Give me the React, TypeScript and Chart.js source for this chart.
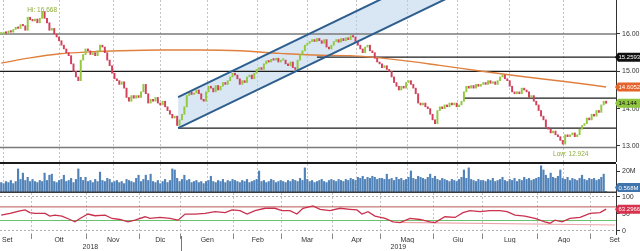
import React, { useEffect, useRef } from 'react';
import { Chart, registerables } from 'chart.js';

Chart.register(...registerables);

// ---------------- data ----------------
const monthNames = ['Set', 'Ott', 'Nov', 'Dic', 'Gen', 'Feb', 'Mar', 'Apr', 'Mag', 'Giu', 'Lug', 'Ago', 'Set'];
const monthStarts = [0, 13, 36, 58, 75, 97, 117, 138, 158, 180, 200, 223, 245];
const yearLabels = ['2018', '2019'];
const yearStartMonth = [0, 4];

const firstOpen = 16.0;
const closes = [
  // Set 2018
  16.00, 16.05, 16.02, 16.08, 16.05, 16.12, 16.18, 16.15, 16.25, 16.22, 16.10, 16.45, 16.38,
  // Ott
  16.35, 16.40, 16.30, 16.42, 16.60, 16.42, 16.30, 16.10, 16.15, 16.00, 15.92, 15.82, 15.70, 15.60, 15.50, 15.42, 15.20, 15.00, 14.85, 14.75, 15.30, 15.45, 15.60,
  // Nov
  15.55, 15.45, 15.50, 15.42, 15.55, 15.70, 15.65, 15.50, 15.30, 15.15, 14.95, 14.80, 14.75, 14.65, 14.72, 14.55, 14.30, 14.20, 14.35, 14.28, 14.35, 14.30,
  // Dic
  14.45, 14.65, 14.40, 14.15, 14.25, 14.20, 14.30, 14.15, 14.10, 14.20, 14.05, 13.95, 13.85, 13.75, 13.80, 13.55, 13.70,
  // Gen 2019
  13.85, 14.05, 14.35, 14.45, 14.38, 14.42, 14.50, 14.40, 14.25, 14.20, 14.45, 14.60, 14.55, 14.45, 14.62, 14.50, 14.60, 14.70, 14.65, 14.75, 14.85, 14.95,
  // Feb
  14.90, 14.80, 14.65, 14.75, 14.70, 14.85, 14.90, 14.80, 14.95, 15.05, 15.10, 15.05, 15.20, 15.28, 15.25, 15.32, 15.30, 15.35, 15.25, 15.30,
  // Mar
  15.30, 15.20, 15.15, 15.25, 15.10, 15.05, 15.30, 15.45, 15.55, 15.70, 15.75, 15.80, 15.85, 15.80, 15.88, 15.82, 15.75, 15.85, 15.65, 15.60, 15.70,
  // Apr
  15.80, 15.85, 15.78, 15.88, 15.82, 15.90, 15.85, 15.95, 15.92, 15.80, 15.70, 15.60, 15.50, 15.65, 15.70, 15.55, 15.50, 15.35, 15.25, 15.20,
  // Mag
  15.10, 15.15, 15.05, 15.00, 14.85, 14.70, 14.60, 14.50, 14.60, 14.55, 14.70, 14.75, 14.65, 14.55, 14.40, 14.15, 14.10, 14.15, 14.05, 14.00, 13.85, 13.70,
  // Giu
  13.60, 13.95, 14.05, 14.00, 14.10, 14.05, 14.15, 14.10, 14.15, 14.05, 14.10, 14.20, 14.45, 14.60, 14.55, 14.62, 14.55, 14.65, 14.60, 14.65,
  // Lug
  14.70, 14.65, 14.75, 14.68, 14.72, 14.65, 14.75, 14.85, 14.90, 14.80, 14.75, 14.60, 14.45, 14.40, 14.45, 14.40, 14.55, 14.50, 14.45, 14.30, 14.35, 14.20, 14.10,
  // Ago
  13.95, 13.80, 13.70, 13.50, 13.45, 13.35, 13.40, 13.30, 13.25, 13.15, 13.05, 13.30, 13.25, 13.30, 13.35, 13.25, 13.30, 13.45, 13.55, 13.60, 13.75, 13.70,
  // Set 2019
  13.85, 13.80, 13.95, 13.90, 14.10, 14.20, 14.144,
];

const volumesM = [
  9, 8, 10, 9, 11, 8, 10, 22, 12, 18, 11, 14, 10,
  12, 10, 9, 11, 10, 18, 11, 16, 17, 10, 9, 11, 12, 16, 10, 11, 13, 9, 12, 22, 14, 11, 14,
  10, 11, 9, 12, 10, 19, 11, 10, 13, 12, 9, 10, 11, 9, 10, 8, 12, 11, 10, 9, 13, 16,
  10, 12, 16, 11, 17, 10, 9, 11, 8, 10, 12, 9, 11, 22, 21, 13, 10,
  12, 16, 11, 12, 9, 10, 11, 9, 10, 8, 10, 11, 15, 10, 9, 11, 10, 12, 9, 11, 10, 12,
  11, 10, 9, 11, 10, 12, 9, 10, 11, 12, 20, 10, 11, 9, 10, 12, 11, 9, 10, 11,
  10, 9, 11, 10, 12, 11, 10, 13, 11, 23, 12, 10, 11, 9, 10, 11, 12, 10, 9, 11, 12,
  11, 10, 12, 11, 10, 12, 11, 13, 12, 11, 14, 13, 15, 12, 14, 13, 15, 14, 12, 13,
  13, 12, 17, 12, 13, 11, 14, 12, 13, 11, 12, 14, 20, 13, 12, 15, 14, 13, 12, 14, 17, 13,
  15, 12, 11, 13, 12, 11, 10, 12, 11, 10, 12, 14, 21, 13, 23, 12, 11, 10, 12, 11,
  11, 10, 12, 11, 13, 10, 11, 12, 14, 11, 10, 12, 11, 13, 10, 12, 11, 14, 12, 13, 11, 12, 13,
  14, 25, 21, 16, 13, 18, 14, 13, 15, 21, 13, 12, 14, 11, 13, 12, 11, 13, 16, 12, 11, 13,
  12, 13, 11, 12, 14, 17, 0.568,
];

// 200-day moving average, read at selected bar positions
const maAt = [0, 12, 24.4, 36.8, 49.3, 65.9, 82.5, 99.1, 115.7, 132.3, 144.7, 165.5, 182, 198.7, 215.3, 231.9, 244.3, 251];
const maValues = [15.22, 15.36, 15.47, 15.52, 15.55, 15.57, 15.57, 15.55, 15.48, 15.43, 15.42, 15.30, 15.16, 15.01, 14.87, 14.74, 14.64, 14.58];

// RSI read at selected bar positions
const rsiAt = [0, 3.65, 7.8, 9.9, 11.9, 14, 18.2, 20.2, 22.3, 25.2, 28.5, 30.6, 32.7, 36, 38.9, 43.1, 46, 49.3, 52.6, 55.5, 59.7, 61.7, 65.9, 70, 73.4, 76.3, 80.4, 84.6, 88.7, 92.9, 95.8, 99.1, 102, 105.3, 109.5, 113.6, 116.5, 119.8, 122.7, 125.2, 129.4, 132.3, 136.4, 140.6, 144.7, 147.6, 149.7, 152.2, 155.1, 159.3, 162.6, 165.5, 169.6, 173.8, 177.9, 180, 184.1, 188.3, 191.6, 194.5, 198.7, 202.8, 207, 209.9, 213.2, 217.3, 221.5, 225.6, 227.7, 229.8, 232.7, 236, 240.2, 244.3, 248.5, 251];
const rsiValues = [46, 51, 58, 61, 53, 51, 51, 43, 46, 43, 33, 26, 36, 49, 44, 46, 36, 33, 26, 31, 41, 36, 39, 36, 31, 49, 49, 51, 56, 53, 61, 59, 49, 59, 66, 66, 59, 59, 49, 66, 73, 63, 59, 66, 63, 61, 49, 56, 43, 36, 26, 24, 36, 33, 26, 24, 41, 39, 53, 59, 56, 59, 59, 56, 46, 43, 36, 26, 22, 31, 26, 36, 39, 51, 53, 63.2966];
const rsiBands = [70, 30];
const rsiTrendAt = [164.2, 254.7];
const rsiTrendValues = [24.7, 16.8];

// horizontal price levels
const levelValues = [16.0, 15.38, 15.0, 14.28, 13.48, 12.96];
const levelFromBar = [-0.5, 131, -0.5, 191.6, 73.4, -0.5];

// trend channel
const channelAt = [73.4, 190];
const channelUpper = [14.31, 17.94];
const channelLower = [13.48, 17.11];

const priceTicks = [13, 14, 15, 16];
const volumeTicks = [20];
const rsiTicks = [0, 50, 100];

const hiValue = 16.668;
const hiBar = 17;
const lowValue = 12.924;
const lowBar = 233;

const lastPrice = 14.144;
const maLastLabel = '14.6052';
const levelTagText = '15.2593';
const lastVolumeM = 0.568;
const lastRsi = 63.2966;

// ---------------- styles / layout ----------------
const FONT = "'Liberation Sans', 'DejaVu Sans', Arial, sans-serif";
const X_MIN = -0.5;
const X_MAX = 255.1;
const AXIS_W = 24;
const UP = '#93c83f';
const DOWN = '#d2405b';
const GRID = '#c4c4c4';
const AXIS = '#333333';
const levelStyles = [
  { color: '#7a7a7a', width: 1.6 },
  { color: '#1c1c1c', width: 1.3 },
  { color: '#1c1c1c', width: 1.3 },
  { color: '#1c1c1c', width: 1.3 },
  { color: '#1c1c1c', width: 1.3 },
  { color: '#7a7a7a', width: 1.6 },
];

const boundaries = monthStarts.slice(1).map((s) => s - 0.5);
const monthCenters = monthNames.map((_, i) => {
  if (i === 0) return boundaries[0] - 10;
  if (i === monthNames.length - 1) return boundaries[boundaries.length - 1] + 10;
  return (boundaries[i - 1] + boundaries[i]) / 2;
});
const yearBoundary = monthStarts[yearStartMonth[1]] - 0.5;
const yearCenters = [(X_MIN + yearBoundary) / 2, (yearBoundary + X_MAX) / 2];

function noPad(s: any) {
  s.paddingTop = 0;
  s.paddingBottom = 0;
  s.paddingLeft = 0;
  s.paddingRight = 0;
}

function hiddenX() {
  return {
    type: 'linear',
    min: X_MIN,
    max: X_MAX,
    offset: false,
    afterBuildTicks: (s: any) => {
      s.ticks = boundaries.map((v) => ({ value: v }));
    },
    afterFit: (s: any) => {
      s.height = 0;
      noPad(s);
    },
    ticks: { display: false },
    grid: { color: GRID, lineWidth: 1, drawTicks: false },
    border: { display: false, dash: [2, 2] },
  };
}

function rightY(min: number, max: number, ticks: number[], fmt: (v: number) => string, gridColor?: any) {
  return {
    type: 'linear',
    position: 'right',
    min,
    max,
    afterBuildTicks: (s: any) => {
      s.ticks = ticks.map((v) => ({ value: v }));
    },
    afterFit: (s: any) => {
      s.width = AXIS_W;
      noPad(s);
    },
    ticks: { callback: (v: any) => fmt(Number(v)), font: { size: 7, family: FONT }, color: AXIS, padding: 2 },
    grid: {
      drawOnChartArea: !!gridColor,
      color: gridColor || AXIS,
      tickColor: AXIS,
      drawTicks: true,
      tickLength: 4,
    },
    border: { display: true, color: AXIS, width: 1, dash: gridColor ? [2, 2] : [] },
  };
}

function drawTag(chart: any, value: number, text: string, bg: string, fg: string, scaleId = 'y') {
  const { ctx, chartArea } = chart;
  const scale = chart.scales[scaleId];
  const h = 9;
  let yc = scale.getPixelForValue(value);
  yc = Math.max(chartArea.top + h / 2, Math.min(chartArea.bottom - h / 2, yc));
  const x0 = chartArea.right + 2;
  ctx.save();
  ctx.fillStyle = bg;
  ctx.beginPath();
  ctx.moveTo(x0 - 3, yc);
  ctx.lineTo(x0, yc - h / 2);
  ctx.lineTo(chart.width, yc - h / 2);
  ctx.lineTo(chart.width, yc + h / 2);
  ctx.lineTo(x0, yc + h / 2);
  ctx.closePath();
  ctx.fill();
  ctx.fillStyle = fg;
  ctx.font = `6px ${FONT}`;
  ctx.textAlign = 'left';
  ctx.textBaseline = 'middle';
  ctx.fillText(text, x0 + 0.5, yc + 0.5);
  ctx.restore();
}

function priceConfig(): any {
  const opens = closes.map((c, i) => (i === 0 ? firstOpen : closes[i - 1]));
  const candles = closes.map((c, i) => ({ x: i, y: [opens[i], c] }));
  const colors = closes.map((c, i) => (c >= opens[i] ? UP : DOWN));
  const pts = (xs: number[], ys: number[]) => xs.map((x, i) => ({ x, y: ys[i] }));

  const datasets: any[] = [
    {
      type: 'line',
      data: pts(channelAt, channelUpper),
      borderWidth: 0,
      pointRadius: 0,
      backgroundColor: 'rgba(186, 209, 234, 0.55)',
      fill: '+1',
      order: 20,
    },
    {
      type: 'line',
      data: pts(channelAt, channelLower),
      borderWidth: 0,
      pointRadius: 0,
      fill: false,
      order: 20,
    },
    ...levelValues.map((v, i) => ({
      type: 'line',
      data: [
        { x: levelFromBar[i], y: v },
        { x: X_MAX, y: v },
      ],
      borderColor: levelStyles[i].color,
      borderWidth: levelStyles[i].width,
      pointRadius: 0,
      fill: false,
      order: 6,
    })),
    {
      type: 'line',
      data: pts(maAt, maValues),
      borderColor: '#e0803f',
      borderWidth: 1.4,
      pointRadius: 0,
      fill: false,
      cubicInterpolationMode: 'monotone',
      order: 5,
    },
    {
      type: 'bar',
      data: candles,
      backgroundColor: colors,
      borderWidth: 0,
      barThickness: 1.3,
      minBarLength: 1.5,
      order: 2,
    },
    {
      type: 'line',
      data: pts(channelAt, channelUpper),
      borderColor: '#2d5e8e',
      borderWidth: 2,
      pointRadius: 0,
      fill: false,
      order: 1,
    },
    {
      type: 'line',
      data: pts(channelAt, channelLower),
      borderColor: '#2d5e8e',
      borderWidth: 2,
      pointRadius: 0,
      fill: false,
      order: 1,
    },
  ];

  const deco = {
    id: 'priceDeco',
    afterDraw(chart: any) {
      const { ctx, scales } = chart;
      const x = scales.x;
      const y = scales.y;
      drawTag(chart, levelValues[1], levelTagText, '#111111', '#ffffff');
      drawTag(chart, maValues[maValues.length - 1], maLastLabel, '#e5642c', '#ffffff');
      drawTag(chart, lastPrice, lastPrice.toFixed(3), '#8ec63f', '#111111');
      ctx.save();
      ctx.font = `6.5px ${FONT}`;
      ctx.fillStyle = '#8cad3a';
      ctx.textAlign = 'center';
      ctx.textBaseline = 'middle';
      const hx = x.getPixelForValue(hiBar);
      const hy = y.getPixelForValue(hiValue);
      ctx.fillText(`Hi: ${hiValue.toFixed(3)}`, hx, hy + 1);
      const lx = x.getPixelForValue(lowBar);
      const ly = y.getPixelForValue(lowValue);
      ctx.fillText(`Low: ${lowValue.toFixed(3)}`, lx + 8, ly + 5);
      ctx.restore();
    },
  };

  return {
    type: 'bar',
    data: { datasets },
    plugins: [deco],
    options: {
      animation: false,
      responsive: false,
      events: [],
      layout: { padding: 0 },
      plugins: { legend: { display: false }, tooltip: { enabled: false } },
      scales: {
        x: hiddenX(),
        y: rightY(12.5711, 16.9108, priceTicks, (v) => v.toFixed(2)),
      },
    },
  };
}

function volumeConfig(): any {
  const deco = {
    id: 'volDeco',
    afterDraw(chart: any) {
      const { ctx, chartArea } = chart;
      ctx.save();
      ctx.fillStyle = '#1a1a1a';
      ctx.fillRect(0, 0, chartArea.right, 2);
      ctx.fillStyle = '#3c3c3c';
      ctx.fillRect(0, chartArea.bottom - 0.5, chartArea.right, 2);
      ctx.restore();
      drawTag(chart, lastVolumeM, `${lastVolumeM}M`, '#3f74ad', '#ffffff');
    },
  };
  return {
    type: 'bar',
    data: {
      datasets: [
        {
          data: volumesM.map((v, i) => ({ x: i, y: v })),
          backgroundColor: '#5283b8',
          borderWidth: 0,
          barThickness: 1.5,
        },
      ],
    },
    plugins: [deco],
    options: {
      animation: false,
      responsive: false,
      events: [],
      layout: { padding: { top: 2, bottom: 1, left: 0, right: 0 } },
      plugins: { legend: { display: false }, tooltip: { enabled: false } },
      scales: {
        x: hiddenX(),
        y: rightY(0, 26.7, volumeTicks, (v) => `${v}M`),
      },
    },
  };
}

function rsiConfig(): any {
  const labelMap = new Map<number, string>();
  monthCenters.forEach((v, i) => labelMap.set(v, monthNames[i]));
  const bset = new Set(boundaries);
  const allTicks = [...boundaries, ...monthCenters].sort((a, b) => a - b);
  const yearMap = new Map<number, string>();
  yearCenters.forEach((v, i) => yearMap.set(v, yearLabels[i]));

  const deco = {
    id: 'rsiDeco',
    afterDraw(chart: any) {
      const { ctx, chartArea, scales } = chart;
      const px = Math.round(scales.x.getPixelForValue(yearBoundary)) + 0.5;
      ctx.save();
      ctx.strokeStyle = '#777777';
      ctx.lineWidth = 1;
      ctx.beginPath();
      ctx.moveTo(px, chartArea.bottom + 2);
      ctx.lineTo(px, chart.height);
      ctx.stroke();
      ctx.restore();
      drawTag(chart, lastRsi, lastRsi.toFixed(4), '#d7334f', '#ffffff');
    },
  };

  return {
    type: 'line',
    data: {
      datasets: [
        {
          data: rsiAt.map((x, i) => ({ x, y: rsiValues[i] })),
          borderColor: '#c9304c',
          borderWidth: 1.3,
          pointRadius: 0,
          fill: false,
          order: 1,
        },
        ...rsiBands.map((b, i) => ({
          data: [
            { x: X_MIN, y: b },
            { x: X_MAX, y: b },
          ],
          borderColor: i === 0 ? '#b9564f' : '#6cc06c',
          borderWidth: 1,
          pointRadius: 0,
          fill: false,
          order: 3,
        })),
        {
          data: rsiTrendAt.map((x, i) => ({ x, y: rsiTrendValues[i] })),
          borderColor: '#eba5ab',
          borderWidth: 1.2,
          pointRadius: 0,
          fill: false,
          order: 2,
        },
      ],
    },
    plugins: [deco],
    options: {
      animation: false,
      responsive: false,
      events: [],
      layout: { padding: 0 },
      plugins: { legend: { display: false }, tooltip: { enabled: false } },
      scales: {
        x: {
          type: 'linear',
          min: X_MIN,
          max: X_MAX,
          offset: false,
          afterBuildTicks: (s: any) => {
            s.ticks = allTicks.map((v) => ({ value: v }));
          },
          afterFit: (s: any) => {
            s.height = 9;
            noPad(s);
          },
          ticks: {
            autoSkip: false,
            maxRotation: 0,
            minRotation: 0,
            padding: -3,
            font: { size: 7, family: FONT },
            color: AXIS,
            callback: (v: any) => labelMap.get(Number(v)) || '',
          },
          grid: {
            color: (c: any) => (c.tick && bset.has(c.tick.value) ? GRID : 'rgba(0,0,0,0)'),
            tickColor: (c: any) => (c.tick && bset.has(c.tick.value) ? '#888888' : 'rgba(0,0,0,0)'),
            lineWidth: 1,
            drawTicks: true,
            tickLength: 5,
          },
          border: { display: false, dash: [2, 2] },
        },
        xy: {
          type: 'linear',
          position: 'bottom',
          min: X_MIN,
          max: X_MAX,
          offset: false,
          afterBuildTicks: (s: any) => {
            s.ticks = yearCenters.map((v) => ({ value: v }));
          },
          afterFit: (s: any) => {
            s.height = 8;
            noPad(s);
          },
          ticks: {
            autoSkip: false,
            maxRotation: 0,
            minRotation: 0,
            padding: 0,
            font: { size: 7, family: FONT },
            color: AXIS,
            callback: (v: any) => yearMap.get(Number(v)) || '',
          },
          grid: { display: false, drawTicks: false },
          border: { display: false },
        },
        y: rightY(-9.7, 110.88, rsiTicks, (v) => `${v}`, (c: any) =>
          c.tick && c.tick.value === 50 ? 'rgba(0,0,0,0)' : '#b0b0b0'
        ),
      },
    },
  };
}

function ChartCanvas({ top, height, make }: { top: number; height: number; make: () => any }) {
  const ref = useRef<HTMLCanvasElement | null>(null);
  useEffect(() => {
    if (!ref.current) return;
    const chart = new Chart(ref.current, make());
    return () => chart.destroy();
  }, []);
  return (
    <canvas
      ref={ref}
      width={640}
      height={height}
      style={{ position: 'absolute', left: 0, top, width: 640, height, display: 'block' }}
    />
  );
}

export default function App() {
  useEffect(() => {
    document.body.style.margin = '0';
    document.body.style.background = '#ffffff';
  }, []);
  return (
    <div style={{ position: 'relative', width: 640, height: 251, overflow: 'hidden', background: '#ffffff' }}>
      <ChartCanvas top={0} height={162} make={priceConfig} />
      <ChartCanvas top={162} height={31} make={volumeConfig} />
      <ChartCanvas top={193} height={58} make={rsiConfig} />
    </div>
  );
}
